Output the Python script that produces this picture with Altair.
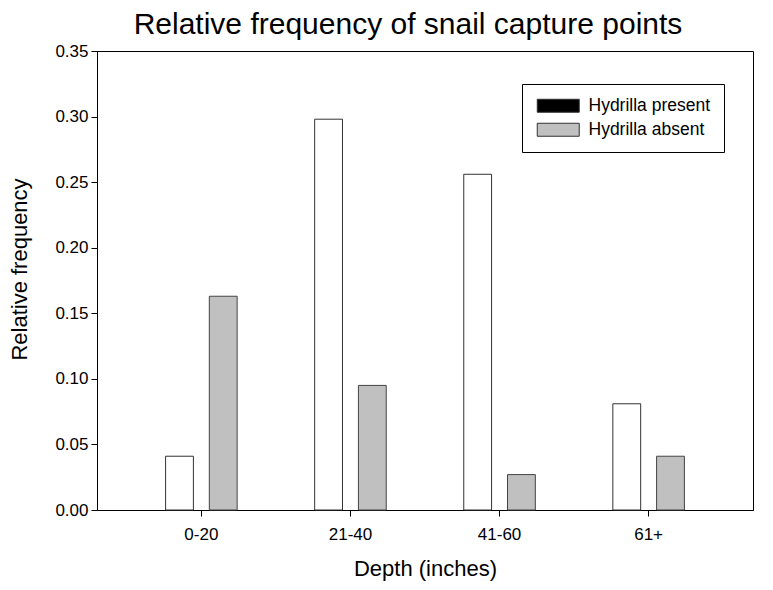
import altair as alt
import pandas as pd

depths = ["0-20", "21-40", "41-60", "61+"]
present = [0.041, 0.298, 0.256, 0.081]
absent = [0.163, 0.095, 0.027, 0.041]
groups = ["Hydrilla present", "Hydrilla absent"]

rows = []
for d, p, a in zip(depths, present, absent):
    rows.append({"Depth": d, "Group": groups[0], "Value": p})
    rows.append({"Depth": d, "Group": groups[1], "Value": a})
df = pd.DataFrame(rows)

FONT = "Liberation Sans"

x = alt.X(
    "Depth:N",
    sort=depths,
    title="Depth (inches)",
    scale=alt.Scale(paddingInner=0, paddingOuter=0.2),
    axis=alt.Axis(labelAngle=0, tickSize=6, labelPadding=10, titlePadding=16,
                  domainColor="black", tickColor="black"),
)
y = alt.Y(
    "Value:Q",
    title="Relative frequency",
    scale=alt.Scale(domain=[0, 0.35], nice=False),
    axis=alt.Axis(values=[0, 0.05, 0.1, 0.15, 0.2, 0.25, 0.3, 0.35], format=".2f",
                  grid=False, tickSize=6, labelPadding=3, titlePadding=23,
                  titleY=218,
                  domainColor="black", tickColor="black"),
)
xoff = alt.XOffset("Group:N", sort=groups,
                   scale=alt.Scale(paddingInner=0.364, paddingOuter=0.886))

bars = alt.Chart(df).mark_bar(strokeWidth=1).encode(
    x=x, y=y, xOffset=xoff,
    fill=alt.Fill("Group:N", sort=groups,
                  scale=alt.Scale(domain=groups, range=["#ffffff", "#c0c0c0"]),
                  legend=None),
    stroke=alt.Stroke("Group:N", sort=groups,
                      scale=alt.Scale(domain=groups, range=["#333333", "#444444"]),
                      legend=None),
)

legend_layer = alt.Chart(df).mark_bar(opacity=0).encode(
    x=x, y=y, xOffset=xoff,
    color=alt.Color("Group:N", sort=groups,
                    scale=alt.Scale(domain=groups, range=["#000000", "#c0c0c0"]),
                    legend=alt.Legend(
                        title=None, orient="none", legendX=425, legendY=33,
                        symbolType="M-1,-1L5.46,-1L5.46,1L-1,1Z",
                        symbolSize=169, symbolOpacity=1,
                        symbolStrokeColor="#333333", symbolStrokeWidth=1,
                        labelFontSize=17.5, labelFont=FONT, labelColor="black",
                        labelOffset=36, rowPadding=5,
                        padding=13, strokeColor="black", fillColor="white",
                        labelLimit=300,
                    )),
)

chart = alt.layer(legend_layer, bars).resolve_scale(
    color="independent", fill="independent", stroke="independent"
).properties(
    width=656,
    height=459,
    background="white",
    autosize=alt.AutoSizeParams(type="none"),
    padding={"left": 89, "top": 43, "right": 12, "bottom": 72},
    title=alt.TitleParams("Relative frequency of snail capture points",
                          fontSize=30, font=FONT, fontWeight="normal",
                          color="black", offset=2, dx=-17, anchor="middle"),
).configure_view(
    stroke="black", strokeWidth=1
).configure_axis(
    labelFont=FONT, titleFont=FONT, labelFontSize=17, titleFontSize=22,
    titleFontWeight="normal", labelColor="black", titleColor="black",
)

chart.save("out.html", embed_options={"renderer": "svg", "actions": False})
